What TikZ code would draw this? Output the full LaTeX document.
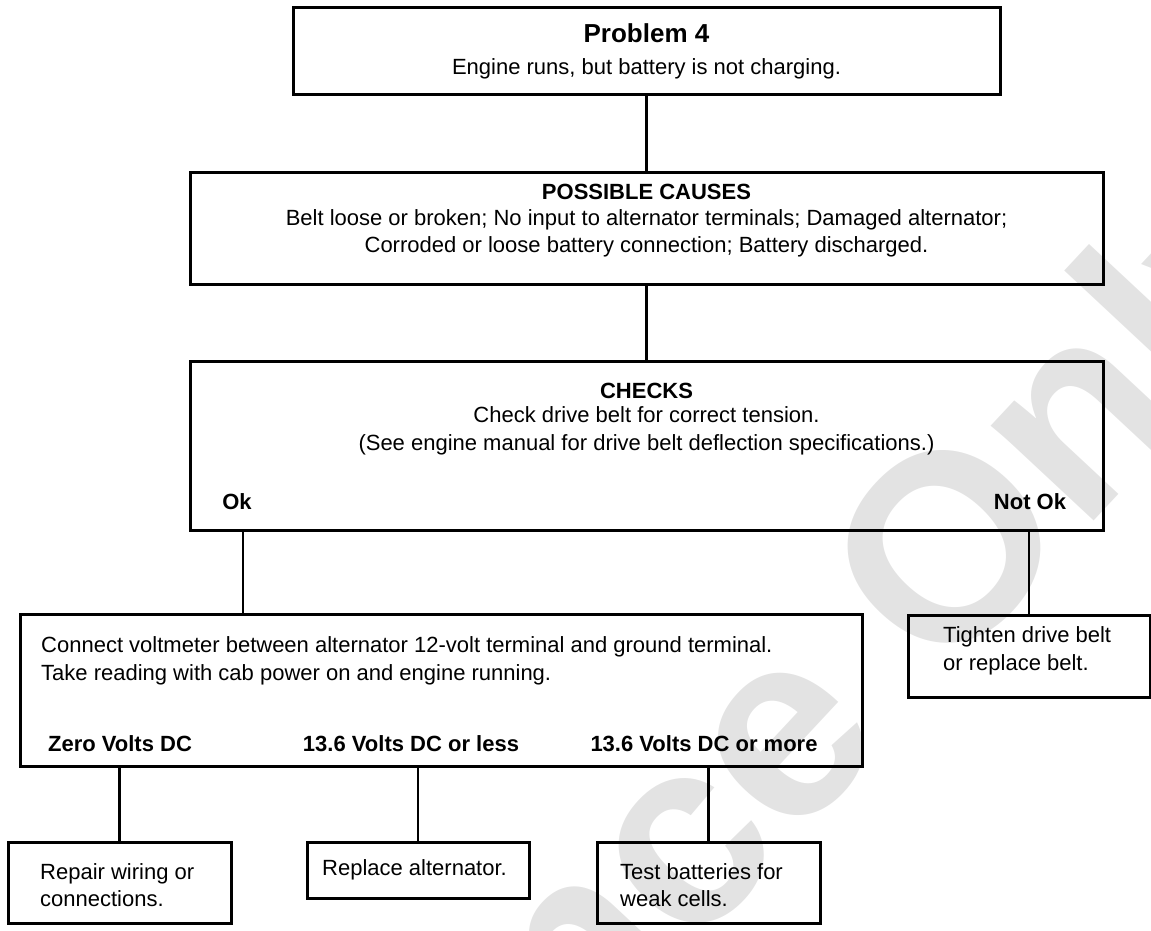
\documentclass[tikz,border=0pt]{standalone}
\usepackage{fontspec}
\setmainfont{Liberation Sans}
\usepackage{tikz}
\usetikzlibrary{positioning}

\begin{document}
\begin{tikzpicture}[x=1pt, y=-1pt,
  box/.style 2 args={draw, line width=3pt, inner sep=0pt, minimum width=#1, minimum height=#2},
  link/.style={line width=2.2pt},
  txt/.style={inner sep=0pt, font=\fontsize{22}{27.5}\selectfont},
  hd/.style={inner sep=0pt, font=\fontsize{22}{27.5}\selectfont\bfseries}]
\useasboundingbox (0,0) rectangle (1151,930);
% marca d'agua
\begin{scope}
\clip (0,0) rectangle (1151,930);
\node[rotate=47, text=black!11, inner sep=0pt, font=\fontsize{265}{265}\selectfont\bfseries] (wmark) at (630,918) {Reference Only};
\end{scope}
% caixas
\node[box={707pt}{87pt}] (prob) at (646.5,50.5) {};
\node[box={913pt}{112pt}] (causes) at (646.5,228) {};
\node[box={913pt}{169pt}] (checks) at (646.5,445.5) {};
\node[box={842pt}{152pt}] (volt) at (441,690) {};
\node[box={242pt}{82pt}] (tighten) at (1029,656) {};
\node[box={223pt}{81pt}] (repair) at (119.5,882.5) {};
\node[box={222pt}{56pt}] (replace) at (418,870) {};
\node[box={223pt}{81pt}] (testbat) at (708.5,882.5) {};
% textos
\node[inner sep=0pt, font=\fontsize{26}{30}\selectfont\bfseries] (probhd) at (646.5,33) {Problem 4};
\node[txt] (probtx) at (646.5,69) {Engine runs, but battery is not charging.};
\node[hd] (causeshd) at (646.5,192) {POSSIBLE CAUSES};
\node[txt, align=center] (causestx) at (646.5,233.5) {Belt loose or broken; No input to alternator terminals; Damaged alternator;\\Corroded or loose battery connection; Battery discharged.};
\node[hd] (checkshd) at (646.5,391) {CHECKS};
\node[txt, align=center] (checkstx) at (646.5,431) {Check drive belt for correct tension.\\(See engine manual for drive belt deflection specifications.)};
\node[hd] (ok) at (237,502) {Ok};
\node[hd] (notok) at (1030,502) {Not Ok};
\node[txt, align=left, anchor=west] (volttx) at (41,661) {Connect voltmeter between alternator 12-volt terminal and ground terminal.\\Take reading with cab power on and engine running.};
\node[hd] (zero) at (120,744) {Zero Volts DC};
\node[hd] (less) at (411,744) {13.6 Volts DC or less};
\node[hd] (more) at (704,744) {13.6 Volts DC or more};
\node[txt, align=left, anchor=west] (tightentx) at (943,651) {Tighten drive belt\\or replace belt.};
\node[txt, align=left, anchor=west] (repairtx) at (40,885) {Repair wiring or\\connections.};
\node[txt, anchor=west] (replacetx) at (322,870) {Replace alternator.};
\node[txt, align=left, anchor=west] (testbattx) at (620,885) {Test batteries for\\weak cells.};
% ligacoes
\coordinate (okdrop) at (243,0);
\draw[link] (prob) -- (causes);
\draw[link] (causes) -- (checks);
\draw[link] (checks.south -| okdrop) -- (volt.north -| okdrop);
\draw[link] (checks.south -| tighten) -- (tighten.north);
\draw[link] (volt.south -| repair) -- (repair.north);
\draw[link] (volt.south -| replace) -- (replace.north);
\draw[link] (volt.south -| testbat) -- (testbat.north);
\end{tikzpicture}
\end{document}
